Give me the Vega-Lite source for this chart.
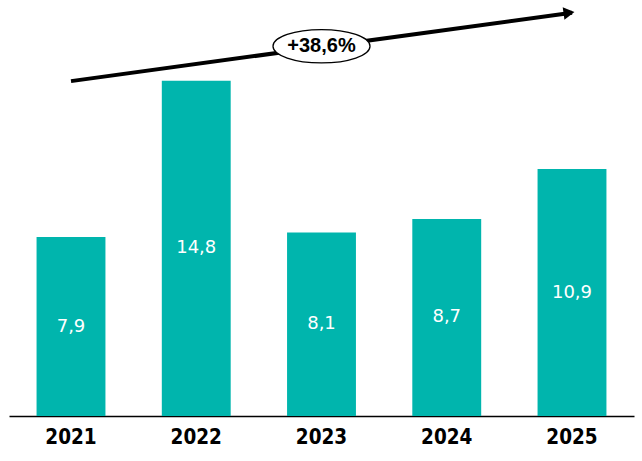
{
  "$schema": "https://vega.github.io/schema/vega-lite/v6.json",
  "width": 625,
  "height": 416,
  "autosize": "none",
  "padding": {"left": 9, "top": 0, "right": 8, "bottom": 45},
  "background": "white",
  "datasets": {
    "sales": [
      {"year": "2021", "value": 7.9, "label": "7,9"},
      {"year": "2022", "value": 14.8, "label": "14,8"},
      {"year": "2023", "value": 8.1, "label": "8,1"},
      {"year": "2024", "value": 8.7, "label": "8,7"},
      {"year": "2025", "value": 10.9, "label": "10,9"}
    ],
    "trend": [
      {"year": "2021", "value": 14.78},
      {"year": "2025", "value": 17.8}
    ],
    "growth": [
      {"year": "2023", "value": 16.32, "label": "+38,6%"}
    ]
  },
  "encoding": {
    "x": {
      "field": "year",
      "type": "nominal",
      "title": null,
      "scale": {"paddingInner": 0.45, "paddingOuter": 0.22},
      "axis": {
        "labelAngle": 0,
        "labelFont": "DejaVu Sans Condensed",
        "labelFontSize": 20.5,
        "labelFontWeight": "bold",
        "labelColor": "black",
        "labelPadding": 11,
        "ticks": false,
        "domainColor": "black",
        "domainWidth": 1.5
      }
    },
    "y": {
      "field": "value",
      "type": "quantitative",
      "scale": {"domain": [0, 18.36], "nice": false},
      "axis": null
    }
  },
  "layer": [
    {
      "data": {"name": "sales"},
      "mark": {"type": "bar", "color": "#00b5ad"}
    },
    {
      "data": {"name": "sales"},
      "transform": [{"calculate": "datum.value / 2", "as": "mid"}],
      "mark": {
        "type": "text",
        "color": "white",
        "font": "DejaVu Sans",
        "fontSize": 18,
        "baseline": "middle"
      },
      "encoding": {
        "y": {"field": "mid", "type": "quantitative"},
        "text": {"field": "label"}
      }
    },
    {
      "data": {"name": "trend"},
      "mark": {"type": "line", "color": "black", "strokeWidth": 4}
    },
    {
      "data": {"name": "trend"},
      "transform": [{"filter": "datum.year == '2025'"}],
      "mark": {
        "type": "point",
        "shape": "triangle-right",
        "filled": true,
        "color": "black",
        "opacity": 1,
        "size": 160,
        "angle": -7.8,
        "xOffset": -3
      }
    },
    {
      "data": {"name": "growth"},
      "mark": {
        "type": "point",
        "shape": "M-1,0A1,0.344,0,1,0,1,0A1,0.344,0,1,0,-1,0Z",
        "size": 9409,
        "filled": false,
        "fill": "white",
        "fillOpacity": 1,
        "stroke": "black",
        "strokeWidth": 1.3,
        "opacity": 1
      }
    },
    {
      "data": {"name": "growth"},
      "mark": {
        "type": "text",
        "font": "Liberation Sans",
        "fontSize": 20,
        "fontWeight": "bold",
        "color": "black",
        "baseline": "middle"
      },
      "encoding": {"text": {"field": "label"}}
    }
  ],
  "config": {"view": {"stroke": null}}
}
